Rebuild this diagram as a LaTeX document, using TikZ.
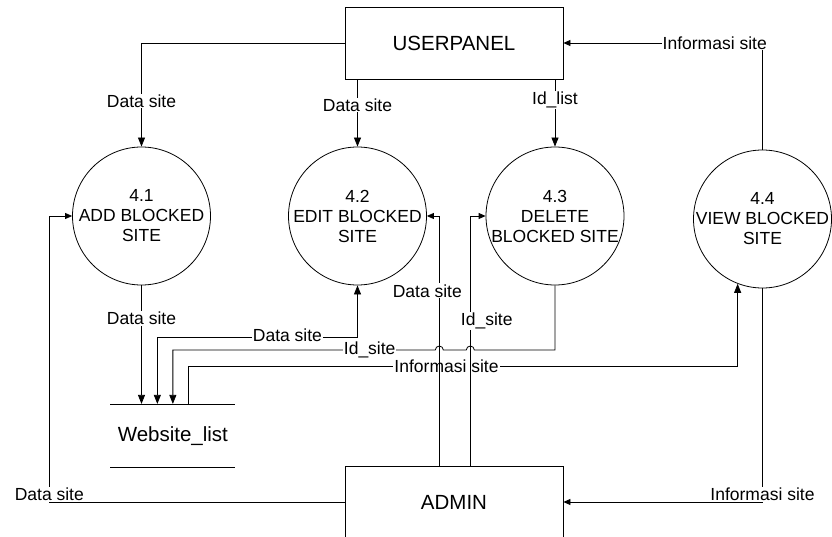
\documentclass[tikz,border=0pt]{standalone}
\usepackage{fontspec}
\setmainfont{Liberation Sans}
\usetikzlibrary{arrows.meta, positioning, calc}

\tikzset{
  proc/.style={draw, circle, minimum size=138pt, inner sep=0pt},
  ptext/.style={align=center, font=\fontsize{17.5}{20}\selectfont},
  ent/.style={draw, minimum width=218pt, minimum height=72pt, font=\fontsize{20.5}{24}\selectfont},
  lbl/.style={fill=white, inner sep=1pt, font=\fontsize{17.5}{20}\selectfont},
  flow/.style={-{Triangle[length=9pt,width=7pt]}},
  flowsm/.style={-{Triangle[length=7pt,width=6pt]}},
  flowboth/.style={{Triangle[length=9pt,width=7pt]}-{Triangle[length=9pt,width=7pt]}},
}

\begin{document}
\begin{tikzpicture}[x=1pt, y=1pt, line width=0.8pt]
  \useasboundingbox (0,0) rectangle (832,-537);
  % entities
  \node[ent] (user) at (454,-43) {USERPANEL};
  \node[ent] (admin) at (454,-502) {ADMIN};
  % processes
  \node[proc] (p1) at (141.5,-216) {};
  \node[proc] (p2) at (357.5,-216) {};
  \node[proc] (p3) at (555,-216) {};
  \node[proc] (p4) at (762.5,-219) {};
  \node[ptext] (t1) at (p1) {4.1\\ADD BLOCKED\\SITE};
  \node[ptext] (t2) at (p2) {4.2\\EDIT BLOCKED\\SITE};
  \node[ptext] (t3) at (p3) {4.3\\DELETE\\BLOCKED SITE};
  \node[ptext] (t4) at (p4) {4.4\\VIEW BLOCKED\\SITE};
  % data store
  \node[minimum width=124.3pt, minimum height=63pt, font=\fontsize{20.5}{24}\selectfont] (store) at (172.85,-435.8) {Website\_list};
  \draw (store.north west) -- (store.north east);
  \draw (store.south west) -- (store.south east);
  % bends
  \coordinate (lvA) at (0,-337.7);
  \coordinate (lvB) at (0,-350);
  \coordinate (lvC) at (0,-366);
  \coordinate (bendL) at (49.3,-216);
  \coordinate (a2) at ([xshift=-14.7pt]admin.north);
  \coordinate (a3) at ([xshift=16.3pt]admin.north);

  % USERPANEL to processes
  \draw[flow] (user.west) -| node[lbl, pos=0.78] (l1) {Data site} (p1.north);
  \draw[flow] (p2.north |- user.south) -- node[lbl, pos=0.38] (l2) {Data site} (p2.north);
  \draw[flow] (p3.north |- user.south) -- node[lbl, pos=0.31] (l3) {Id\_list} (p3.north);
  \draw[flowsm] (p4.north) |- node[lbl, pos=0.62] (l4) {Informasi site} (user.east);

  % processes and Website_list
  \draw[flow] (p1.south) -- node[lbl, pos=0.28] (l5) {Data site} (p1.south |- store.north);
  \draw[flowboth] ([xshift=-15.5pt]store.north) |- node[lbl, pos=0.825, yshift=2pt] (l6) {Data site} (p2.south |- lvA) -- (p2.south);
  \draw[flow] (p3.south) -- (p3.south |- lvB)
    -- ($(a3 |- lvB)+(4,0)$) arc[start angle=0, end angle=180, radius=4pt]
    -- ($(a2 |- lvB)+(4,0)$) arc[start angle=0, end angle=180, radius=4pt]
    -- node[lbl, pos=0.25] (l7) {Id\_site} (store.north |- lvB) -- (store.north);
  \draw[flow] ([xshift=15.5pt]store.north) |- node[lbl, pos=0.735] (l8) {Informasi site} (p4.249 |- lvC) -- (p4.249);

  % ADMIN and processes
  \draw[flowsm] (a2) |- node[lbl, pos=0.35, xshift=-12pt] (l9) {Data site} (p2.east);
  \draw[flowsm] (a3) |- node[lbl, pos=0.29, xshift=16.4pt] (l10) {Id\_site} (p3.west);
  \draw[flowsm] (p4.south) |- node[lbl, pos=0.5, yshift=7.5pt] (l11) {Informasi site} (admin.east);
  \draw[flowsm] (admin.west) -| node[lbl, pos=0.5, yshift=7.5pt] (l12) {Data site} (bendL) -- (p1.west);
\end{tikzpicture}
\end{document}
